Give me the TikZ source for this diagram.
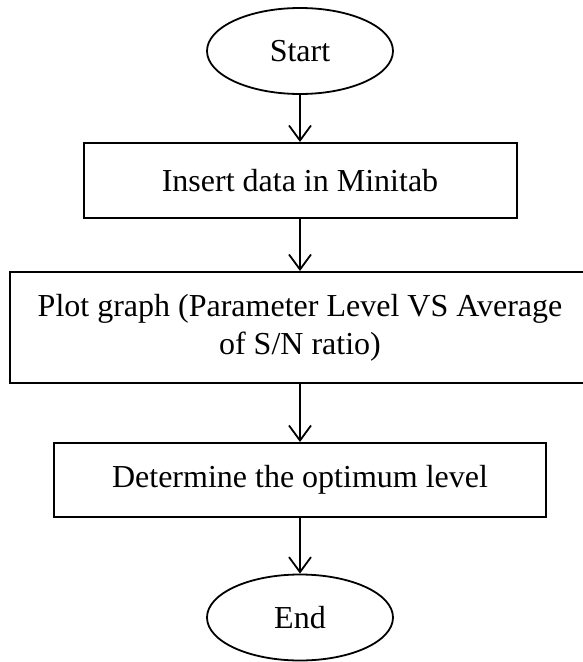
\documentclass[tikz,border=0pt]{standalone}
\usepackage{fontspec}
\setmainfont{Liberation Serif}
\usetikzlibrary{shapes.geometric,arrows.meta}
\begin{document}
\begin{tikzpicture}[x=1pt,y=-1pt,
  every node/.style={font=\fontsize{32}{38}\selectfont, inner sep=0pt, align=center},
  terminal/.style={ellipse, draw, line width=1.8pt, minimum width=186pt, minimum height=86pt},
  stepbox/.style={rectangle, draw, line width=2pt, minimum height=75pt},
  flow/.style={line width=1.8pt, -{Straight Barb[length=15pt,width=22pt,line width=1.8pt]}}]
  \useasboundingbox (0,0) rectangle (582,662);
  % terminals and process boxes, all on one vertical axis
  \node[terminal] (start) at (300,51) {Start};
  \node[stepbox, minimum width=433pt] (insert) at (300,180.5) {Insert data in Minitab};
  \node[stepbox, minimum width=580pt, minimum height=111pt] (plot) at (300,327.5)
    {Plot graph (Parameter Level VS Average\\of S/N ratio)};
  \node[stepbox, minimum width=492pt, minimum height=74pt] (optimum) at (300,480) {Determine the optimum level};
  \node[terminal] (end) at (300,617.5) {End};
  % connectors
  \draw[flow] (start) -- (insert);
  \draw[flow] (insert) -- (plot);
  \draw[flow] (plot) -- (optimum);
  \draw[flow] (optimum) -- (end);
\end{tikzpicture}
\end{document}
